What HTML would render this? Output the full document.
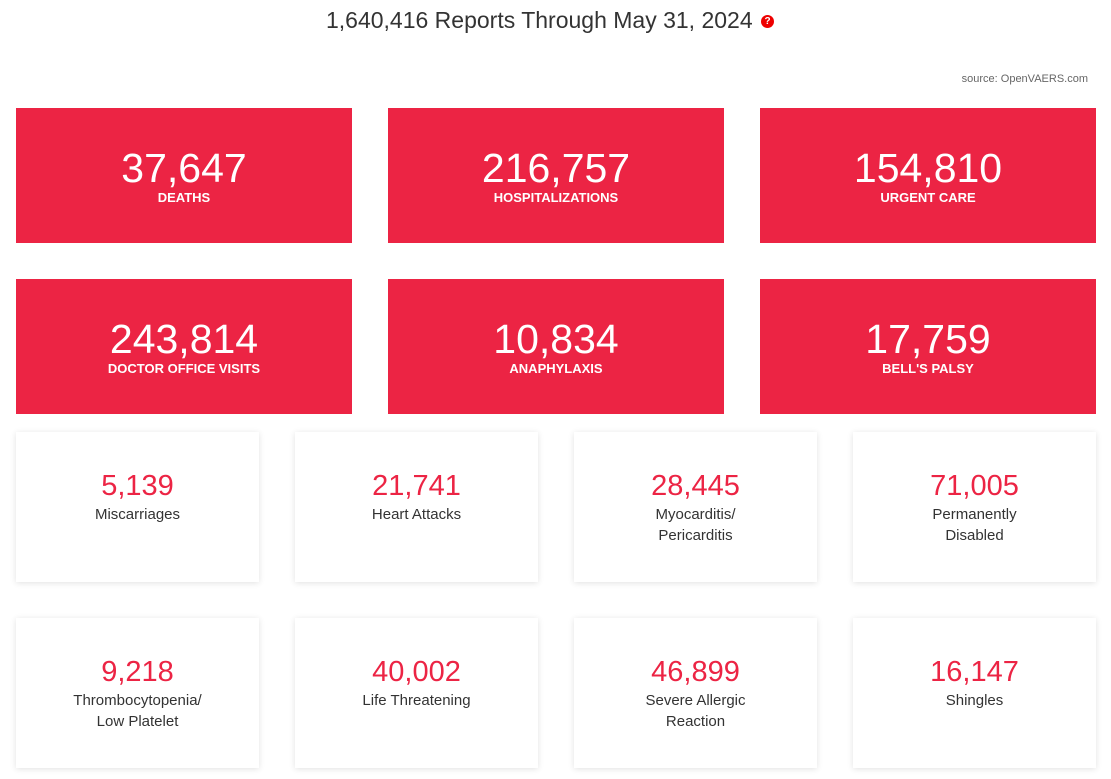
<!DOCTYPE html>
<html><head><meta charset="utf-8"><style>
body{margin:0;width:1111px;height:779px;background:#fff;font-family:"Liberation Sans",sans-serif;position:relative;overflow:hidden}
.t{position:absolute;left:0;width:1100px;top:7px;text-align:center;font-size:23px;color:#333}
.q{display:inline-block;width:13px;height:13px;border-radius:50%;background:#e00;color:#fff;font-size:10px;font-weight:bold;line-height:13px;text-align:center;vertical-align:middle;margin-left:2px}
.src{position:absolute;right:23px;top:73px;font-size:11px;color:#666}
.r{position:absolute;width:336px;height:135px;background:#ec2444;color:#fff;text-align:center}
.r .n{position:absolute;top:37px;width:100%;font-size:41px;line-height:46px}
.r .l{position:absolute;top:82px;width:100%;font-size:13px;font-weight:bold}
.w{position:absolute;width:243px;height:150px;background:#fff;box-shadow:0 1px 6px rgba(0,0,0,.12);text-align:center}
.w .n{position:absolute;top:37px;width:100%;font-size:29px;color:#ec2444;line-height:34px}
.w .l{position:absolute;top:72px;width:100%;font-size:15px;color:#333;line-height:21px}
</style></head><body>
<div class="t">1,640,416 Reports Through May 31, 2024 <span class="q">?</span></div>
<div class="src">source: OpenVAERS.com</div>

<div class="r" style="left:16px;top:108px"><div class="n">37,647</div><div class="l">DEATHS</div></div>
<div class="r" style="left:388px;top:108px"><div class="n">216,757</div><div class="l">HOSPITALIZATIONS</div></div>
<div class="r" style="left:760px;top:108px"><div class="n">154,810</div><div class="l">URGENT CARE</div></div>
<div class="r" style="left:16px;top:279px"><div class="n">243,814</div><div class="l">DOCTOR OFFICE VISITS</div></div>
<div class="r" style="left:388px;top:279px"><div class="n">10,834</div><div class="l">ANAPHYLAXIS</div></div>
<div class="r" style="left:760px;top:279px"><div class="n">17,759</div><div class="l">BELL'S PALSY</div></div>

<div class="w" style="left:16px;top:432px"><div class="n">5,139</div><div class="l">Miscarriages</div></div>
<div class="w" style="left:295px;top:432px"><div class="n">21,741</div><div class="l">Heart Attacks</div></div>
<div class="w" style="left:574px;top:432px"><div class="n">28,445</div><div class="l">Myocarditis/<br>Pericarditis</div></div>
<div class="w" style="left:853px;top:432px"><div class="n">71,005</div><div class="l">Permanently<br>Disabled</div></div>
<div class="w" style="left:16px;top:618px"><div class="n">9,218</div><div class="l">Thrombocytopenia/<br>Low Platelet</div></div>
<div class="w" style="left:295px;top:618px"><div class="n">40,002</div><div class="l">Life Threatening</div></div>
<div class="w" style="left:574px;top:618px"><div class="n">46,899</div><div class="l">Severe Allergic<br>Reaction</div></div>
<div class="w" style="left:853px;top:618px"><div class="n">16,147</div><div class="l">Shingles</div></div>
</body></html>
